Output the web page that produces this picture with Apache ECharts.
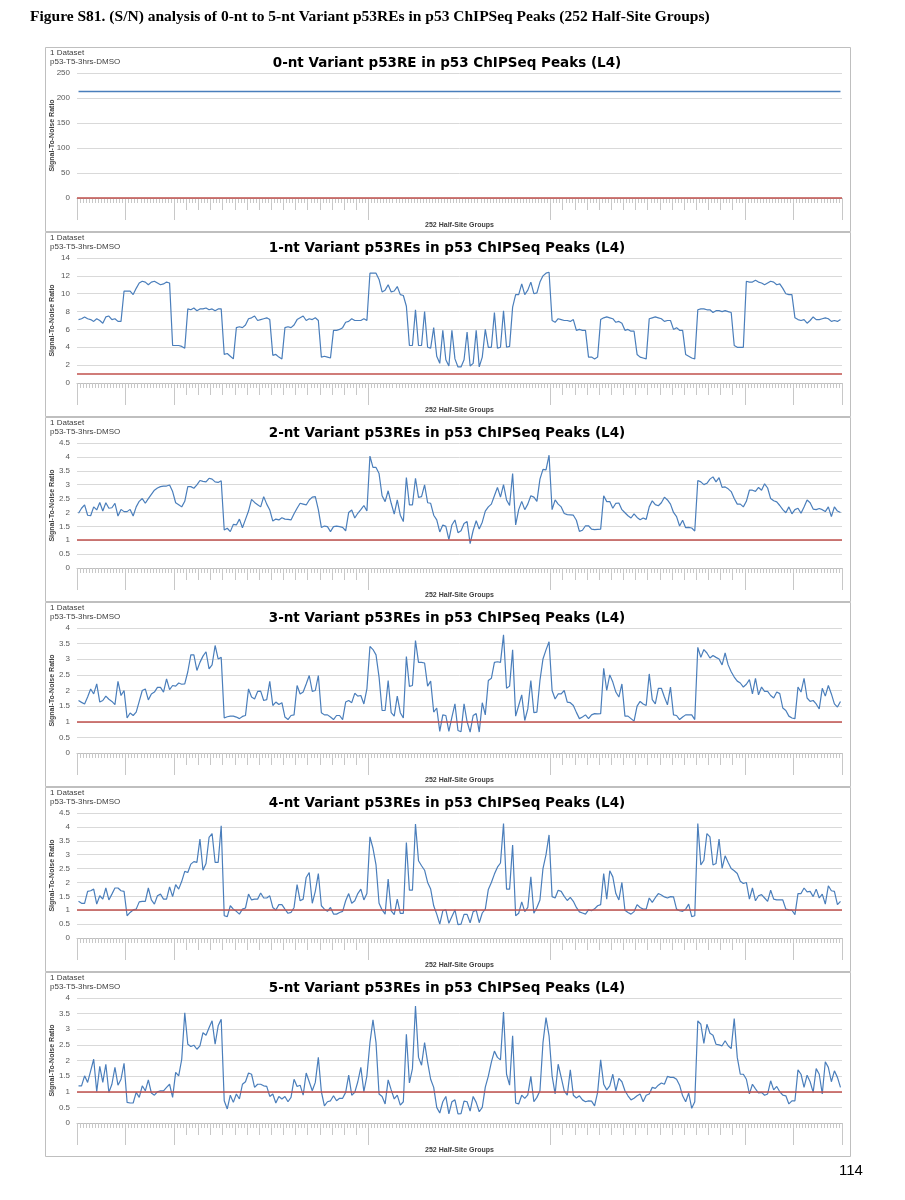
<!DOCTYPE html>
<html><head><meta charset="utf-8">
<script src="https://cdn.jsdelivr.net/npm/echarts@6/dist/echarts.min.js"></script>
<style>html,body{margin:0;padding:0;background:#fff}#c{width:905px;height:1200px}</style>
</head><body><div id="c"></div>
<script>
const figureHeading = 'Figure S81. (S/N) analysis of 0-nt to 5-nt Variant p53REs in p53 ChIPSeq Peaks (252 Half-Site Groups)';
const pageNumber = '114';
const panelTitles = [
  '0-nt Variant p53RE in p53 ChIPSeq Peaks (L4)',
  '1-nt Variant p53REs in p53 ChIPSeq Peaks (L4)',
  '2-nt Variant p53REs in p53 ChIPSeq Peaks (L4)',
  '3-nt Variant p53REs in p53 ChIPSeq Peaks (L4)',
  '4-nt Variant p53REs in p53 ChIPSeq Peaks (L4)',
  '5-nt Variant p53REs in p53 ChIPSeq Peaks (L4)'
];
const datasetLine1 = '1 Dataset';
const datasetLine2 = 'p53-T5-3hrs-DMSO';
const yAxisName = 'Signal-To-Noise Ratio';
const xAxisName = '252 Half-Site Groups';
const yMax = [250, 14, 4.5, 4, 4.5, 4];
const yStep = [50, 2, 0.5, 0.5, 0.5, 0.5];
const threshold = 1;
// category-group boundaries of the multi-level x axis
const groupBounds = [0, 16, 32, 96, 156, 220, 236];
const subGroupRanges = [[32, 96], [156, 220]];

const nt0 = [
213,213,213,213,213,213,213,213,213,213,213,213,213,213,213,213,213,213,213,213,213,
213,213,213,213,213,213,213,213,213,213,213,213,213,213,213,213,213,213,213,213,213,
213,213,213,213,213,213,213,213,213,213,213,213,213,213,213,213,213,213,213,213,213,
213,213,213,213,213,213,213,213,213,213,213,213,213,213,213,213,213,213,213,213,213,
213,213,213,213,213,213,213,213,213,213,213,213,213,213,213,213,213,213,213,213,213,
213,213,213,213,213,213,213,213,213,213,213,213,213,213,213,213,213,213,213,213,213,
213,213,213,213,213,213,213,213,213,213,213,213,213,213,213,213,213,213,213,213,213,
213,213,213,213,213,213,213,213,213,213,213,213,213,213,213,213,213,213,213,213,213,
213,213,213,213,213,213,213,213,213,213,213,213,213,213,213,213,213,213,213,213,213,
213,213,213,213,213,213,213,213,213,213,213,213,213,213,213,213,213,213,213,213,213,
213,213,213,213,213,213,213,213,213,213,213,213,213,213,213,213,213,213,213,213,213,
213,213,213,213,213,213,213,213,213,213,213,213,213,213,213,213,213,213,213,213,213
];
const nt1 = [
7.1,7.2,7.4,7.2,7.1,6.9,7.2,7.0,6.7,7.4,
7.5,7.1,7.2,6.9,6.9,10.3,10.3,10.3,9.9,10.6,
11.2,11.4,11.3,11.0,11.3,11.4,11.2,11.0,11.1,11.3,
11.2,4.2,4.2,4.2,4.1,3.9,8.3,8.2,8.4,8.1,
8.3,8.3,8.4,8.2,8.3,8.1,8.3,8.3,3.2,3.3,
3.0,2.7,6.2,6.3,6.2,6.5,7.2,7.3,7.5,7.0,
7.1,7.2,7.3,7.1,3.1,3.2,2.9,2.7,6.2,6.3,
6.2,6.5,7.1,7.3,7.5,7.0,7.2,7.1,7.3,7.0,
2.9,3.0,2.9,2.8,5.9,5.9,6.0,6.2,6.8,6.9,
7.2,7.0,7.0,7.0,7.2,7.0,12.3,12.3,12.3,11.6,
10.2,10.4,11.0,10.2,10.3,10.8,9.9,9.8,8.6,4.2,
4.2,8.2,4.2,4.2,8.0,4.0,3.9,6.2,3.0,2.2,
5.9,2.6,1.9,5.9,2.7,1.8,1.8,2.6,5.7,1.9,
2.2,5.9,1.8,2.9,6.0,4.0,4.0,7.9,3.9,4.0,
8.1,4.0,4.1,8.5,9.9,9.9,11.1,9.9,10.4,11.3,
10.0,10.1,11.3,12.0,12.3,12.4,7.0,6.8,7.2,7.1,
7.0,7.0,6.9,7.1,5.9,6.0,5.9,5.9,2.9,2.9,
2.7,2.9,7.1,7.3,7.4,7.3,7.2,6.8,6.9,6.7,
5.9,6.0,5.8,5.8,3.2,2.9,2.8,2.7,7.2,7.3,
7.4,7.3,7.2,6.9,7.0,7.0,6.0,6.2,5.9,5.9,
3.2,3.0,2.8,2.7,8.2,8.3,8.3,8.2,8.2,7.9,
8.1,8.1,8.0,8.1,8.0,7.9,4.2,4.0,4.0,4.0,
11.4,11.3,11.3,11.5,11.3,11.2,11.0,11.2,11.4,11.3,
11.0,11.1,10.6,10.0,9.9,9.9,7.3,7.1,7.0,7.1,
6.7,7.0,7.4,7.1,7.1,7.2,7.3,7.2,6.9,7.0,
6.9,7.1
];
const nt2 = [
1.97,2.15,2.27,1.9,1.88,2.2,2.09,2.36,2.05,2.35,
2.15,2.17,2.33,1.87,2.11,2.03,2.03,2.11,1.87,2.2,
2.4,2.5,2.33,2.5,2.65,2.8,2.88,2.93,2.95,2.95,
2.99,2.75,2.35,2.28,2.2,2.4,2.93,2.93,2.87,2.99,
3.15,3.12,3.1,3.23,3.2,3.1,3.08,3.14,1.37,1.43,
1.31,1.57,1.55,1.76,1.45,1.75,2.05,2.47,2.36,2.28,
2.2,2.57,2.3,2.09,1.69,1.76,1.73,1.81,1.76,1.75,
1.73,1.95,2.15,2.33,2.3,2.27,2.45,2.55,2.57,2.1,
1.46,1.51,1.49,1.31,1.49,1.51,1.49,1.46,1.34,2.0,
2.09,1.8,1.97,2.1,2.25,2.05,4.03,3.62,3.62,3.4,
2.6,2.39,2.78,2.33,1.94,2.45,1.9,1.67,3.26,2.27,
2.27,3.23,2.54,2.57,2.99,2.35,2.33,1.9,1.73,1.3,
1.55,1.5,1.02,1.55,1.73,1.27,1.34,1.6,1.67,0.88,
1.35,1.7,1.4,1.65,2.05,2.2,2.3,2.6,2.9,2.55,
3.0,2.45,2.25,3.4,1.55,2.1,2.4,2.1,2.3,2.6,
2.55,2.4,3.2,3.55,3.53,4.06,2.1,2.45,2.3,2.2,
1.96,1.92,1.91,1.9,1.72,1.32,1.36,1.52,1.52,1.4,
1.38,1.39,1.4,2.6,2.39,2.39,2.15,2.33,2.34,2.1,
1.99,1.88,1.8,1.95,1.82,1.74,1.8,1.75,2.2,2.42,
2.28,2.24,2.35,2.55,2.45,2.3,2.0,1.85,1.51,1.72,
1.45,1.46,1.44,1.33,3.15,3.1,3.0,3.05,3.2,3.28,
3.1,3.25,2.9,2.92,2.85,2.75,2.5,2.3,2.3,2.2,
2.4,2.8,2.8,2.76,2.9,2.8,3.03,2.88,2.5,2.42,
2.38,2.25,2.1,1.99,2.2,1.95,2.1,2.15,1.97,2.2,
2.45,2.35,2.12,2.1,2.14,2.1,2.03,2.2,1.85,2.2,
2.05,2.0
];
const nt3 = [
1.68,1.62,1.57,1.79,2.05,1.89,2.21,1.63,1.68,1.82,
1.72,1.65,1.55,2.29,1.84,2.0,1.12,1.28,1.2,1.31,
1.65,2.0,2.05,1.7,1.89,1.95,2.1,2.1,1.95,2.37,
2.03,2.16,2.14,2.24,2.2,2.21,2.6,3.14,3.14,2.64,
2.9,3.1,3.24,2.69,2.82,3.44,3.01,3.06,1.12,1.16,
1.18,1.18,1.15,1.1,1.17,1.2,2.05,1.79,1.73,1.97,
1.98,1.68,1.71,2.29,1.52,1.63,1.55,1.61,1.15,1.07,
1.2,1.22,2.16,1.89,1.95,2.21,2.48,1.97,2.0,2.48,
1.29,1.22,1.22,1.15,1.07,1.2,1.2,1.07,1.63,1.68,
1.61,1.91,1.82,1.84,1.57,2.05,3.41,3.31,3.14,2.43,
1.36,1.36,2.32,1.29,1.18,1.82,1.29,1.12,3.09,2.13,
2.16,3.6,2.9,2.9,2.88,2.14,2.3,1.31,1.44,0.69,
1.22,1.2,0.69,1.15,1.57,0.72,0.68,1.57,1.0,0.67,
1.2,1.26,0.67,1.61,1.22,2.32,2.39,2.9,2.92,2.9,
3.78,2.07,2.14,3.3,1.18,1.52,1.86,1.04,1.41,2.32,
1.29,1.31,2.32,3.01,3.3,3.56,2.0,1.73,1.89,1.89,
2.0,1.63,1.61,1.52,1.3,1.1,1.15,1.22,1.1,1.22,
1.26,1.25,1.26,2.71,2.0,2.5,2.27,1.95,1.79,2.21,
1.18,1.18,1.1,1.02,1.5,1.65,1.57,1.52,2.53,1.71,
1.57,2.07,2.07,1.79,1.54,2.11,1.22,1.2,1.07,1.15,
1.22,1.22,1.22,1.07,3.38,3.06,3.31,3.2,3.04,3.12,
3.06,3.01,2.82,3.2,2.82,2.6,2.43,2.3,2.24,2.11,
2.2,2.35,1.89,2.39,1.86,2.11,1.97,1.97,1.84,1.76,
1.95,1.9,1.44,1.36,1.18,1.12,1.1,2.11,1.95,2.39,
1.76,1.65,1.68,1.57,1.41,2.07,1.82,2.16,1.89,1.57,
1.47,1.65
];
const nt4 = [
1.32,1.25,1.25,1.68,1.7,1.76,1.22,1.52,1.4,1.8,
1.37,1.58,1.8,1.8,1.7,1.68,0.8,0.92,1.01,1.04,
1.3,1.32,1.32,1.8,1.37,1.22,1.52,1.58,1.4,1.4,
1.84,1.49,1.92,1.76,2.04,2.4,2.36,2.66,2.75,2.72,
3.56,2.44,2.68,3.62,3.76,2.72,2.72,4.04,0.8,0.77,
1.16,1.04,0.96,0.86,1.04,1.08,1.58,1.37,1.4,1.4,
1.62,1.44,1.44,1.52,1.1,1.01,1.2,1.2,1.04,0.89,
0.92,1.1,1.92,1.34,1.4,2.18,2.36,1.25,1.68,2.32,
1.16,1.04,0.96,1.1,0.86,0.86,0.92,0.96,1.34,1.6,
1.25,1.34,1.6,1.76,1.37,1.6,3.64,3.23,2.63,1.25,
1.01,0.86,2.12,0.98,0.84,1.4,0.89,0.89,3.44,1.72,
1.72,4.1,2.78,2.6,2.44,2.0,1.76,1.16,0.86,0.5,
0.98,1.01,0.53,0.77,1.01,0.48,0.5,0.85,0.85,0.55,
0.95,1.0,0.55,0.9,1.04,1.75,2.0,2.3,2.55,2.7,
4.12,1.76,1.76,3.35,0.8,0.89,1.3,0.95,1.1,2.2,
0.89,1.1,1.37,2.5,3.0,3.71,1.49,1.44,1.72,1.68,
1.5,1.35,1.46,1.32,1.1,0.94,0.9,0.86,1.01,0.98,
1.05,1.16,1.2,2.32,1.4,2.42,2.2,1.6,1.37,2.0,
1.0,0.92,0.86,0.95,1.2,1.1,1.04,1.04,1.44,1.28,
1.45,1.6,1.55,1.48,1.44,1.49,1.48,1.04,0.98,0.96,
1.04,1.22,0.77,0.8,4.12,2.63,2.8,3.76,3.64,2.63,
2.68,3.56,2.51,2.96,2.72,2.5,2.42,2.32,2.04,1.96,
2.0,1.4,1.8,1.34,1.52,1.56,1.44,1.32,1.72,1.4,
1.37,1.37,1.37,1.04,1.01,1.0,0.84,1.6,1.6,1.8,
1.66,1.68,1.49,1.76,1.44,1.58,1.22,1.88,1.7,1.68,
1.2,1.32
];
const nt5 = [
1.19,1.19,1.51,1.3,1.67,2.04,1.0,1.81,1.3,1.88,
0.98,1.24,1.78,1.21,1.4,1.91,0.66,0.64,0.64,0.98,
0.82,1.19,1.03,1.38,0.96,0.89,1.0,1.03,1.03,1.14,
1.24,0.82,1.62,1.51,2.04,3.53,2.52,2.45,2.49,2.36,
2.47,2.89,2.81,3.05,3.27,2.52,3.11,3.32,0.71,0.45,
0.89,0.66,0.93,0.77,1.24,1.32,1.6,1.56,1.14,1.24,
1.24,1.19,1.17,0.85,0.93,0.64,0.85,0.77,0.85,0.68,
0.82,1.4,1.17,1.21,0.89,1.6,1.32,1.03,1.3,2.1,
1.0,0.55,0.68,0.71,0.87,0.71,0.79,0.79,0.98,1.53,
0.89,0.98,1.32,1.78,1.0,1.51,2.57,3.3,2.57,0.93,
0.85,0.61,1.38,1.06,0.77,0.89,0.57,0.68,2.84,1.28,
1.74,3.74,2.1,1.85,2.57,1.94,1.4,1.14,0.5,0.32,
0.68,0.85,0.29,0.68,0.74,0.29,0.3,0.7,0.68,0.38,
0.85,0.66,0.36,0.5,1.15,1.5,1.95,2.3,2.1,2.02,
3.55,1.56,1.21,2.79,0.64,0.61,0.89,0.79,0.9,1.49,
0.68,0.82,1.03,2.57,3.37,2.79,1.51,0.93,1.88,1.46,
1.03,0.89,1.7,0.89,0.8,0.87,0.74,0.68,0.71,0.7,
0.55,0.98,2.02,1.24,1.06,1.19,1.56,1.03,1.43,1.32,
1.03,0.87,0.74,0.79,0.87,0.93,0.68,0.89,0.93,1.14,
1.11,1.21,1.28,1.24,1.49,1.46,1.46,1.4,1.21,0.87,
0.68,0.96,0.47,0.68,3.27,3.16,2.55,3.16,2.87,2.81,
2.52,2.5,2.47,2.63,2.47,2.38,3.34,2.1,1.56,1.56,
1.4,0.93,1.24,1.09,0.96,0.98,0.89,0.93,1.35,1.06,
1.17,1.0,0.89,0.87,0.61,0.71,0.71,1.7,1.56,1.14,
1.53,1.32,0.98,1.74,1.56,0.93,1.96,1.78,1.32,1.67,
1.46,1.14
];
const categories = Array.from({length: 252}, (_, i) => String(i + 1));
const seriesData = [nt0, nt1, nt2, nt3, nt4, nt5];

const panelTops = [47, 232, 417, 602, 787, 972];
const panelH = 185;
const panelLeft = 45, panelW = 805;
const gridLeft = 77, gridW = 765, gridOffset = 26, gridH = 125;
const FONT = 'Liberation Sans, Arial, sans-serif';
const TITLE_FONT = 'DejaVu Sans, Verdana, sans-serif';

const chart = echarts.init(document.getElementById('c'), null, {renderer: 'canvas'});
const grids = [], xAxes = [], yAxes = [], series = [], titles = [], graphics = [];

graphics.push({type: 'text', left: 30, top: 9, style: {text: figureHeading, font: 'bold 15.5px "Liberation Serif", "Times New Roman", serif', fill: '#000'}});
graphics.push({type: 'text', left: 839, top: 1163, style: {text: pageNumber, font: '15px ' + FONT, fill: '#000'}});

const isBound = (i) => groupBounds.indexOf(i) >= 0;
const isSub = (i) => subGroupRanges.some(r => i > r[0] && i < r[1] && (i - r[0]) % 4 === 0);

seriesData.forEach((data, k) => {
  const top = panelTops[k];
  graphics.push({type: 'rect', shape: {x: panelLeft + 0.5, y: top + 0.5, width: panelW, height: panelH - 1}, style: {fill: 'none', stroke: '#bfbfbf', lineWidth: 1}, silent: true});
  graphics.push({type: 'text', left: 50, top: top + 2, style: {text: datasetLine1, font: '8px ' + FONT, fill: '#404040'}});
  graphics.push({type: 'text', left: 50, top: top + 11, style: {text: datasetLine2, font: '8px ' + FONT, fill: '#404040'}});
  titles.push({text: panelTitles[k], left: 447, top: top + 9, textAlign: 'center',
    textStyle: {fontFamily: TITLE_FONT, fontSize: 13.5, fontWeight: 'bold', color: '#000'}, padding: 0});
  grids.push({left: gridLeft, top: top + gridOffset, width: gridW, height: gridH});
  const base = xAxes.length;
  xAxes.push({type: 'category', gridIndex: k, data: categories, boundaryGap: true, position: 'bottom',
    axisLine: {show: true, lineStyle: {color: '#bfbfbf'}},
    axisTick: {show: true, interval: 0, length: 5, lineStyle: {color: '#c8c8c8'}},
    axisLabel: {show: false}, splitLine: {show: false},
    name: xAxisName, nameLocation: 'middle', nameGap: 24,
    nameTextStyle: {fontFamily: FONT, fontSize: 7, fontWeight: 'bold', color: '#404040'}});
  xAxes.push({type: 'category', gridIndex: k, data: categories, boundaryGap: true, position: 'bottom', offset: 0,
    axisLine: {show: false},
    axisTick: {show: true, interval: (i) => isSub(i), length: 12, lineStyle: {color: '#c8c8c8'}},
    axisLabel: {show: false}, splitLine: {show: false}});
  xAxes.push({type: 'category', gridIndex: k, data: categories, boundaryGap: true, position: 'bottom', offset: 0,
    axisLine: {show: false},
    axisTick: {show: true, interval: (i) => isBound(i), length: 22, lineStyle: {color: '#c8c8c8'}},
    axisLabel: {show: false}, splitLine: {show: false}});
  yAxes.push({type: 'value', gridIndex: k, min: 0, max: yMax[k], interval: yStep[k],
    axisLine: {show: false}, axisTick: {show: false},
    axisLabel: {fontFamily: FONT, fontSize: 8, color: '#595959', margin: 7},
    splitLine: {lineStyle: {color: '#d9d9d9', width: 1}},
    name: yAxisName, nameLocation: 'middle', nameGap: 21, nameMoveOverlap: false,
    nameTextStyle: {fontFamily: FONT, fontSize: 7, fontWeight: 'bold', color: '#404040'}});
  series.push({type: 'line', xAxisIndex: base, yAxisIndex: k, data: data, showSymbol: false,
    lineStyle: {color: '#4a7ebb', width: k === 0 ? 1.5 : 1.2}, itemStyle: {color: '#4a7ebb'},
    silent: true, z: 3,
    markLine: {silent: true, symbol: 'none', label: {show: false}, animation: false,
      lineStyle: {color: '#c0504d', width: 1.5, type: 'solid'}, data: [{yAxis: threshold}]}});
});

chart.setOption({animation: false, backgroundColor: '#fff', title: titles, grid: grids,
  xAxis: xAxes, yAxis: yAxes, series: series, graphic: graphics});
</script></body></html>
